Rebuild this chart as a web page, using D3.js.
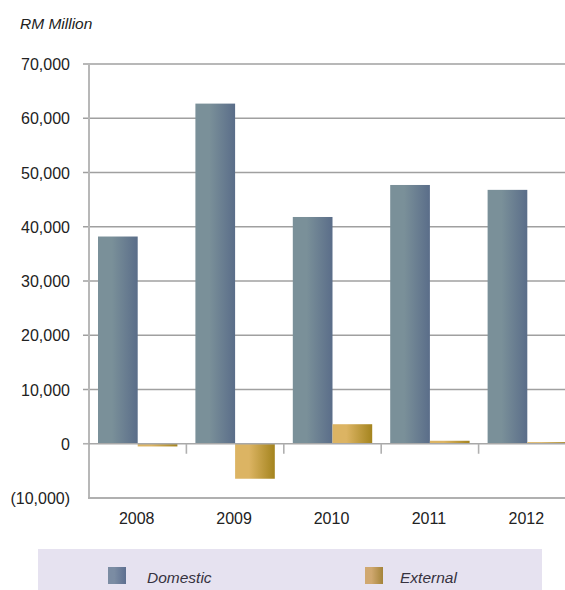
<!DOCTYPE html>
<html><head><meta charset="utf-8">
<script src="https://cdn.jsdelivr.net/npm/d3@7"></script>
<style>body{margin:0;background:#fff;}svg{display:block;font-family:"Liberation Sans",Arial,sans-serif;}</style>
</head><body>
<svg id="c" width="565" height="590"></svg>
<script>
const years = ["2008","2009","2010","2011","2012"];
const domestic = [38200, 62700, 41800, 47700, 46800];
const external = [-500, -6450, 3600, 550, 300];
const yTicks = [-10000, 0, 10000, 20000, 30000, 40000, 50000, 60000, 70000];
const seriesNames = ["Domestic", "External"];

(function () {
const svg = d3.select("#c");
const pL = 89, pR = 576, pT = 64, pB = 498;
const x = d3.scaleBand().domain(years).range([pL, pR]).paddingInner(0).paddingOuter(0);
const y = d3.scaleLinear().domain([-10000, 70000]).range([pB, pT]);
const inner = d3.scaleBand().domain(seriesNames).range([9, x.bandwidth() - 9]);

const defs = svg.append("defs");
function grad(id, c1, c2) {
  const g = defs.append("linearGradient").attr("id", id).attr("x1", "0").attr("x2", "1").attr("y1", "0").attr("y2", "0");
  g.append("stop").attr("offset", "0%").attr("stop-color", c1);
  g.append("stop").attr("offset", "35%").attr("stop-color", c1);
  g.append("stop").attr("offset", "100%").attr("stop-color", c2);
}
grad("gD", "#7a9099", "#5a6d89");
grad("gE", "#dcb463", "#a4841e");
grad("gDL", "#7b8ca3", "#5d6f90");
grad("gEL", "#d0a870", "#a4843a");

// gridlines
svg.append("g").selectAll("line").data(yTicks.filter(t => t > 0)).join("line")
  .attr("x1", pL - 6).attr("x2", 565).attr("y1", d => y(d)).attr("y2", d => y(d))
  .attr("stroke", "#a0a0a0").attr("stroke-width", 1.6);

// y axis line
svg.append("line").attr("x1", pL).attr("x2", pL).attr("y1", pT).attr("y2", pB)
  .attr("stroke", "#b8b8b8").attr("stroke-width", 2);
// bottom line
svg.append("line").attr("x1", pL - 1).attr("x2", 565).attr("y1", pB).attr("y2", pB)
  .attr("stroke", "#b0b0b0").attr("stroke-width", 2);
// y tick mark for 0
svg.append("g").selectAll("line").data([0]).join("line")
  .attr("x1", pL - 6).attr("x2", pL).attr("y1", d => y(d)).attr("y2", d => y(d))
  .attr("stroke", "#b0b0b0").attr("stroke-width", 1.6);

// y labels
const fmt = d => d < 0 ? "(" + d3.format(",")(-d) + ")" : d3.format(",")(d);
svg.append("g").selectAll("text").data(yTicks).join("text")
  .attr("x", 70).attr("y", d => y(d) + 6).attr("text-anchor", "end")
  .attr("font-size", 16).attr("fill", "#222").text(fmt);

// bars
const g = svg.append("g");
years.forEach((yr, i) => {
  const vals = [domestic[i], external[i]];
  vals.forEach((v, j) => {
    const s = seriesNames[j];
    g.append("rect")
      .attr("x", x(yr) + inner(s)).attr("width", inner.bandwidth())
      .attr("y", y(Math.max(0, v))).attr("height", Math.abs(y(v) - y(0)))
      .attr("fill", j === 0 ? "url(#gD)" : "url(#gE)");
  });
});

// zero line
svg.append("line").attr("x1", pL).attr("x2", 565).attr("y1", y(0)).attr("y2", y(0))
  .attr("stroke", "#a8a8a8").attr("stroke-width", 1.6);
// category ticks
svg.append("g").selectAll("line").data(years.slice(1)).join("line")
  .attr("x1", d => x(d)).attr("x2", d => x(d)).attr("y1", y(0)).attr("y2", y(0) + 10)
  .attr("stroke", "#b0b0b0").attr("stroke-width", 1.6);

// x labels
svg.append("g").selectAll("text").data(years).join("text")
  .attr("x", d => x(d) + x.bandwidth() / 2 - 1).attr("y", 524).attr("text-anchor", "middle")
  .attr("font-size", 16).attr("fill", "#222").text(d => d);

// title
svg.append("text").attr("x", 20).attr("y", 29).attr("font-size", 15.5).attr("font-style", "italic")
  .attr("fill", "#222").text("RM Million");

// legend
svg.append("rect").attr("x", 38).attr("y", 549).attr("width", 504).attr("height", 41).attr("fill", "#e6e2f0");
const legX = [108, 365], legT = [147, 400];
seriesNames.forEach((s, i) => {
  svg.append("rect").attr("x", legX[i]).attr("y", 567).attr("width", 18).attr("height", 17)
    .attr("fill", i === 0 ? "url(#gDL)" : "url(#gEL)");
  svg.append("text").attr("x", legT[i]).attr("y", 583).attr("font-size", 15.5).attr("font-style", "italic")
    .attr("fill", "#36323f").text(s);
});
})();
</script>
</body></html>
